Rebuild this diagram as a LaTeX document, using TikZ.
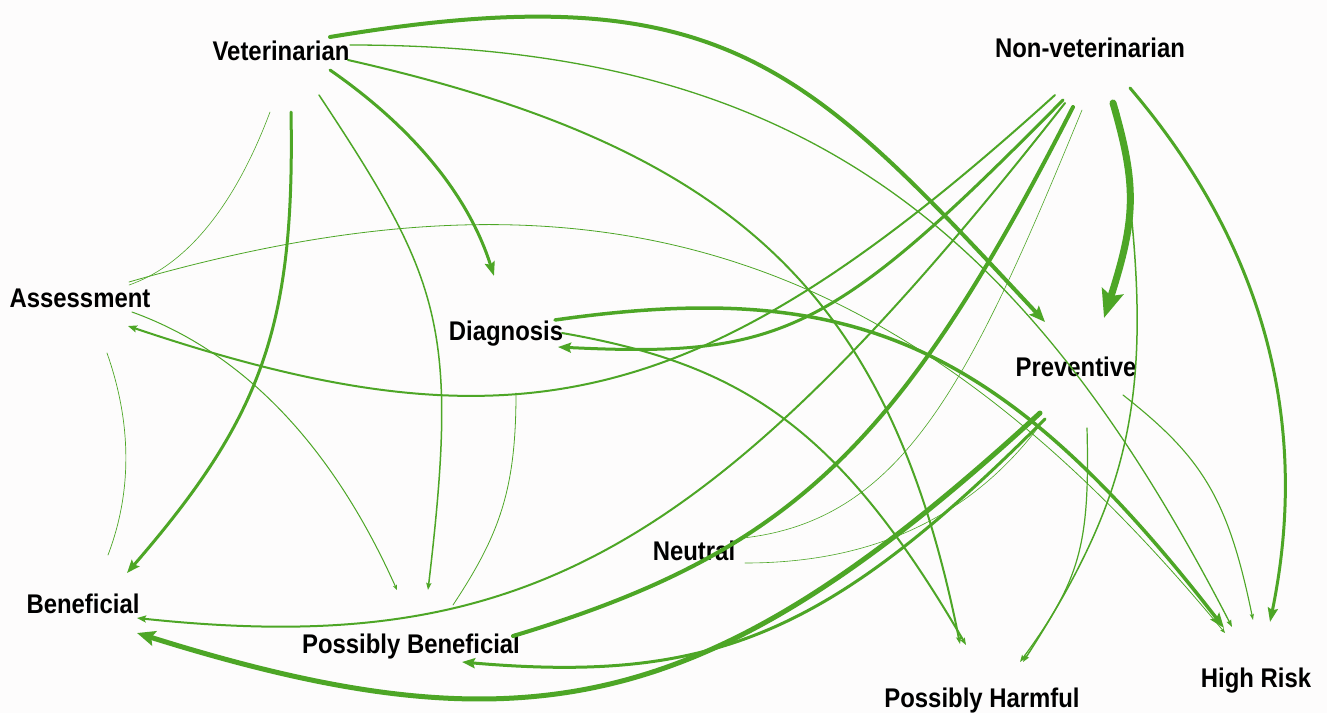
\documentclass[tikz,border=0pt]{standalone}
\usepackage{fontspec}
\setmainfont{Liberation Sans}[FakeStretch=0.885]
\usetikzlibrary{arrows.meta}
\definecolor{grn}{RGB}{77,166,38}
\definecolor{bgc}{RGB}{253,252,252}
\begin{document}
\begin{tikzpicture}[x=1pt,y=-1pt,
  lbl/.style={font=\fontsize{27}{30}\selectfont\bfseries, anchor=base, inner sep=0pt, text=black},
  con/.style={draw=grn, line cap=round},
  ah/.style n args={3}{-{Stealth[length=#1pt,width=#2pt,inset=#3pt]}}]
\fill[bgc] (0,0) rectangle (1327,713);
\useasboundingbox (0,0) rectangle (1327,713);
% labels
\node[lbl] (vet) at (281,60) {Veterinarian};
\node[lbl] (nv)  at (1090,57) {Non-veterinarian};
\node[lbl] (ass) at (80,307) {Assessment};
\node[lbl] (dia) at (506,340) {Diagnosis};
\node[lbl] (pre) at (1076,376) {Preventive};
\node[lbl] (neu) at (694,560) {Neutral};
\node[lbl] (ben) at (83,613) {Beneficial};
\node[lbl] (pb)  at (411,653) {Possibly Beneficial};
\node[lbl] (ph)  at (982,707) {Possibly Harmful};
\node[lbl] (hr)  at (1256,687) {High Risk};
% Veterinarian
\draw[con, line width=4pt, ah={16}{13}{3}] ([shift={(49,-23)}]vet.base) .. controls (724,-29) and (806,66) .. ([shift={(-31,-54)}]pre.base);
\draw[con, line width=1.3pt, ah={7}{5}{1}] ([shift={(69,-15)}]vet.base) .. controls (800,45) and (1025,226) .. ([shift={(-24,-60)}]hr.base);
\draw[con, line width=2pt, ah={7}{5}{1}] ([shift={(67,0)}]vet.base) .. controls (737,148) and (890,294) .. ([shift={(-22,-63)}]ph.base);
\draw[con, line width=3pt, ah={14}{10}{2}] ([shift={(49,10)}]vet.base) .. controls (415,129) and (469,197) .. ([shift={(-12,-64)}]dia.base);
\draw[con, line width=1.5pt, ah={7}{5}{1}] ([shift={(38,35)}]vet.base) .. controls (442,281) and (459,327) .. ([shift={(17,-63)}]pb.base);
\draw[con, line width=3pt, ah={13}{10}{2}] ([shift={(10,52)}]vet.base) .. controls (295,327) and (262,417) .. ([shift={(44,-40)}]ben.base);
\draw[con, line width=0.6pt] ([shift={(-11,52)}]vet.base) .. controls (237,200) and (190,264) .. ([shift={(49,-22)}]ass.base);
% Non-veterinarian
\draw[con, line width=7pt, ah={28}{22}{5}] ([shift={(23,46)}]nv.base) .. controls (1137,186) and (1136,218) .. ([shift={(28,-58)}]pre.base);
\draw[con, line width=3pt, ah={14}{10}{2}] ([shift={(40,31)}]nv.base) .. controls (1264,245) and (1311,423) .. ([shift={(14,-65)}]hr.base);
\draw[con, line width=1.5pt, ah={7}{5}{1}] ([shift={(28,53)}]nv.base) .. controls (1158,380) and (1139,482) .. ([shift={(41,-45)}]ph.base);
\draw[con, line width=3pt, ah={13}{10}{2}] ([shift={(-27,43)}]nv.base) .. controls (832,334) and (782,358) .. ([shift={(52,7)}]dia.base);
\draw[con, line width=2pt, ah={9}{7}{1.5}] ([shift={(-25,46)}]nv.base) .. controls (710,555) and (524,659) .. ([shift={(54,5)}]ben.base);
\draw[con, line width=2pt, ah={9}{7}{1.5}] ([shift={(-35,38)}]nv.base) .. controls (705,412) and (520,458) .. ([shift={(48,19)}]ass.base);
\draw[con, line width=4pt] ([shift={(-17,50)}]nv.base) .. controls (900,446) and (792,552) .. ([shift={(102,-17)}]pb.base);
\draw[con, line width=0.6pt] ([shift={(-8,53)}]nv.base) .. controls (971,380) and (904,520) .. ([shift={(49,-22)}]neu.base);
% Preventive
\draw[con, line width=5pt, ah={18}{15}{3}] ([shift={(-36,37)}]pre.base) .. controls (713,713) and (533,757) .. ([shift={(54,20)}]ben.base);
\draw[con, line width=3pt, ah={13}{10}{2}] ([shift={(-31,43)}]pre.base) .. controls (830,634) and (714,684) .. ([shift={(51,9)}]pb.base);
\draw[con, line width=1.2pt, ah={7}{5}{1}] ([shift={(11,52)}]pre.base) .. controls (1090,545) and (1080,580) .. ([shift={(38,-45)}]ph.base);
\draw[con, line width=1.1pt, ah={6}{4}{1}] ([shift={(47,19)}]pre.base) .. controls (1202,457) and (1228,498) .. ([shift={(-3,-67)}]hr.base);
\draw[con, line width=0.6pt] ([shift={(-36,49)}]pre.base) .. controls (971,517) and (873,563) .. ([shift={(51,3)}]neu.base);
% Diagnosis
\draw[con, line width=3.5pt, ah={15}{11}{2.5}] ([shift={(49,-20)}]dia.base) .. controls (849,278) and (1000,339) .. ([shift={(-32,-59)}]hr.base);
\draw[con, line width=2pt, ah={7}{5}{1}] ([shift={(56,-7)}]dia.base) .. controls (740,364) and (838,425) .. ([shift={(-16,-62)}]ph.base);
\draw[con, line width=0.8pt] ([shift={(10,53)}]dia.base) .. controls (516,489) and (500,534) .. ([shift={(42,-48)}]pb.base);
% Assessment
\draw[con, line width=1pt, ah={5}{4}{1}] ([shift={(52,5)}]ass.base) .. controls (243,352) and (332,445) .. ([shift={(-14,-63)}]pb.base);
\draw[con, line width=0.8pt, ah={5}{4}{1}] ([shift={(49,-25)}]ass.base) .. controls (597,147) and (904,245) .. ([shift={(-31,-54)}]hr.base);
\draw[con, line width=0.7pt] ([shift={(27,46)}]ass.base) .. controls (132,424) and (132,492) .. ([shift={(25,-58)}]ben.base);
\end{tikzpicture}
\end{document}
